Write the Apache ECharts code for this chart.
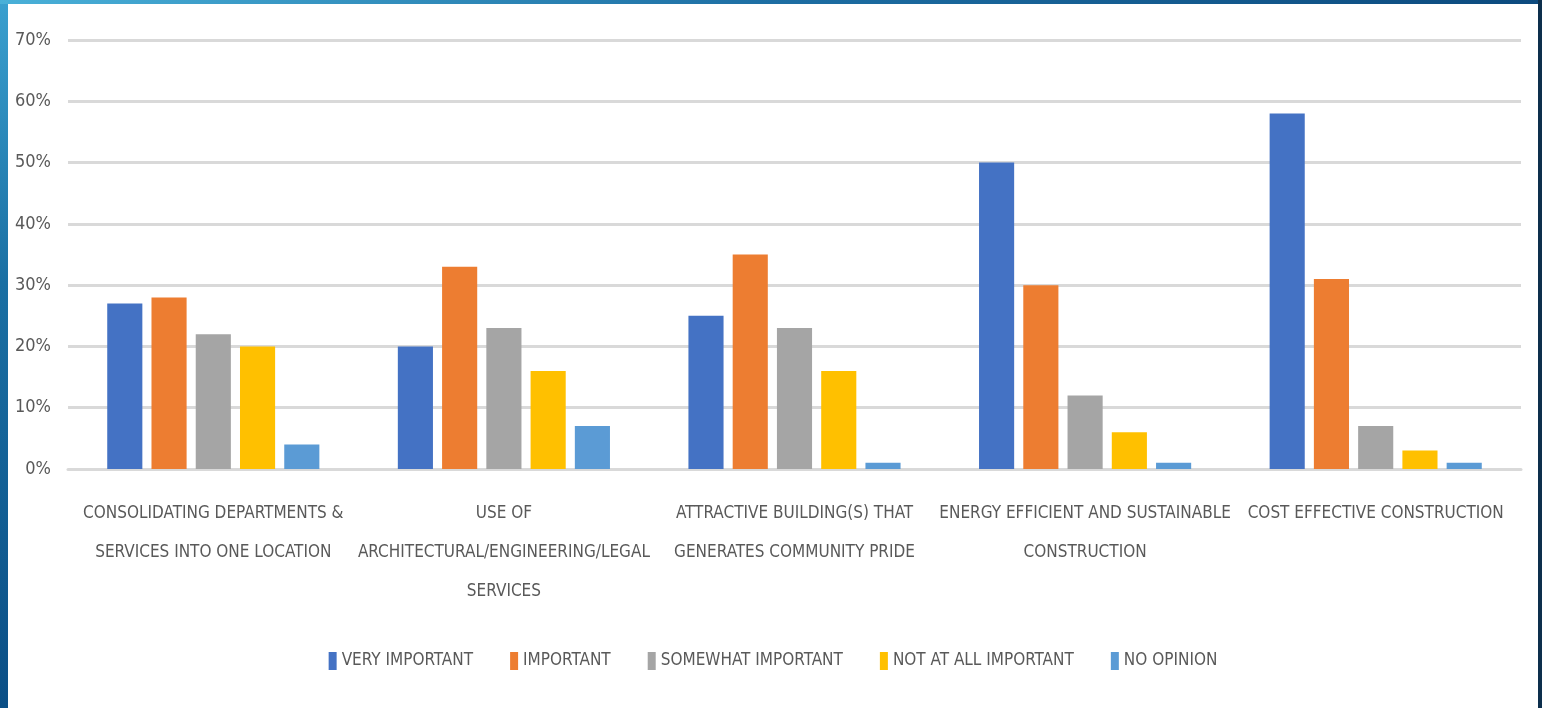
<!DOCTYPE html>
<html>
<head>
<meta charset="utf-8">
<script src="https://cdn.jsdelivr.net/npm/echarts@6/dist/echarts.min.js"></script>
<style>
html,body{margin:0;padding:0;width:1542px;height:708px;overflow:hidden;}
body{background:linear-gradient(180deg,#3aa0cf 0%,#1a6fa3 40%,#0b4f86 100%);position:relative;}
#topbar{position:absolute;left:0;top:0;width:1542px;height:4px;background:linear-gradient(90deg,#49b0d8 0%,#1d6ea3 50%,#0c4a7e 100%);}
#rightbar{position:absolute;right:0;top:0;width:4px;height:708px;background:#0d2f4c;}
#chart{position:absolute;left:8px;top:4px;width:1530px;height:704px;background:#fff;}
</style>
</head>
<body>
<div id="topbar"></div>
<div id="rightbar"></div>
<div id="chart"></div>
<script>
const categories = [
  "CONSOLIDATING DEPARTMENTS &\nSERVICES INTO ONE LOCATION",
  "USE OF\nARCHITECTURAL/ENGINEERING/LEGAL\nSERVICES",
  "ATTRACTIVE BUILDING(S) THAT\nGENERATES COMMUNITY PRIDE",
  "ENERGY EFFICIENT AND SUSTAINABLE\nCONSTRUCTION",
  "COST EFFECTIVE CONSTRUCTION"
];
const seriesNames = ["VERY IMPORTANT", "IMPORTANT", "SOMEWHAT IMPORTANT", "NOT AT ALL IMPORTANT", "NO OPINION"];
const veryImportant = [27, 20, 25, 50, 58];
const important = [28, 33, 35, 30, 31];
const somewhatImportant = [22, 23, 23, 12, 7];
const notAtAllImportant = [20, 16, 16, 6, 3];
const noOpinion = [4, 7, 1, 1, 1];
const colors = ["#4472C4", "#ED7D31", "#A5A5A5", "#FFC000", "#5B9BD5"];

const FONT = "'DejaVu Sans Condensed', 'Liberation Sans Narrow', sans-serif";
const values = [veryImportant, important, somewhatImportant, notAtAllImportant, noOpinion];

const chart = echarts.init(document.getElementById('chart'));
chart.setOption({
  animation: false,
  color: colors,
  textStyle: { fontFamily: FONT },
  grid: { left: 60, top: 36, width: 1453, height: 429, containLabel: false },
  legend: {
    top: 643,
    left: 'center',
    itemWidth: 8,
    itemHeight: 18,
    itemGap: 37,
    icon: 'rect',
    textStyle: { fontFamily: FONT, fontSize: 17, color: '#595959' },
    data: seriesNames
  },
  xAxis: {
    type: 'category',
    data: categories,
    axisLine: { show: true, lineStyle: { color: '#d9d9d9', width: 3 } },
    axisTick: { show: false },
    axisLabel: { interval: 0, margin: 25, fontFamily: FONT, fontSize: 17, color: '#595959', lineHeight: 39 }
  },
  yAxis: {
    type: 'value',
    min: 0, max: 70, interval: 10,
    axisLine: { show: false },
    axisTick: { show: false },
    axisLabel: { margin: 17, fontFamily: FONT, fontSize: 18, color: '#595959', formatter: '{value}%' },
    splitLine: { lineStyle: { color: '#d9d9d9', width: 3 } }
  },
  series: seriesNames.map((n, i) => ({
    name: n,
    type: 'bar',
    data: values[i],
    barGap: '26%',
    barCategoryGap: '27%',
    itemStyle: { color: colors[i] }
  }))
});
</script>
</body>
</html>
